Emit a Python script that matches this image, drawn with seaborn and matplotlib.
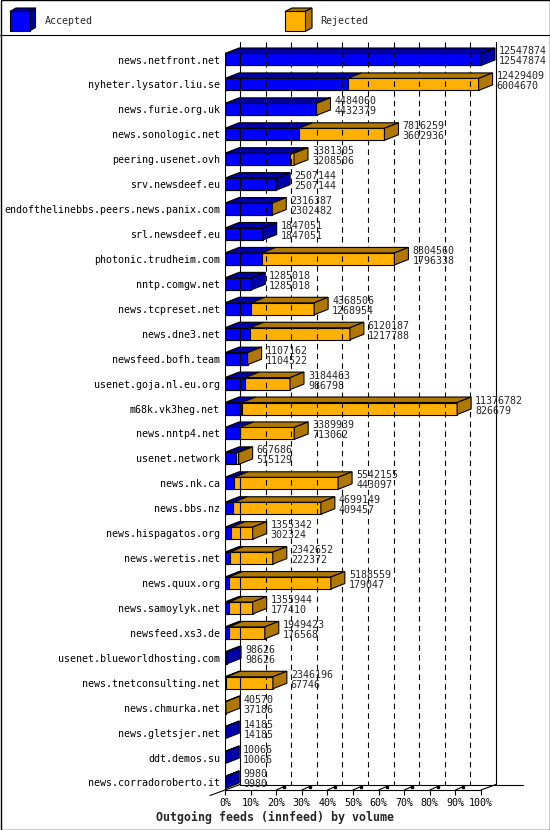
import pandas as pd
import seaborn as sns
import matplotlib.pyplot as plt
from matplotlib.patches import Polygon, Rectangle
from matplotlib.lines import Line2D

# innfeed outgoing feeds: offered (total) and accepted articles per peer
peers = [
    "news.netfront.net", "nyheter.lysator.liu.se", "news.furie.org.uk",
    "news.sonologic.net", "peering.usenet.ovh", "srv.newsdeef.eu",
    "endofthelinebbs.peers.news.panix.com", "srl.newsdeef.eu",
    "photonic.trudheim.com", "nntp.comgw.net", "news.tcpreset.net",
    "news.dne3.net", "newsfeed.bofh.team", "usenet.goja.nl.eu.org",
    "m68k.vk3heg.net", "news.nntp4.net", "usenet.network", "news.nk.ca",
    "news.bbs.nz", "news.hispagatos.org", "news.weretis.net",
    "news.quux.org", "news.samoylyk.net", "newsfeed.xs3.de",
    "usenet.blueworldhosting.com", "news.tnetconsulting.net",
    "news.chmurka.net", "news.gletsjer.net", "ddt.demos.su",
    "news.corradoroberto.it",
]
offered = [
    12547874, 12429409, 4484060, 7816259, 3381305, 2507144, 2316387,
    1847051, 8304560, 1285018, 4368506, 6120187, 1107162, 3184463,
    11376782, 3389939, 667686, 5542155, 4699149, 1355342, 2342652,
    5188559, 1355944, 1949423, 98626, 2346196, 40570, 14185, 10066, 9980,
]
accepted = [
    12547874, 6004670, 4432379, 3602936, 3208506, 2507144, 2302482,
    1847051, 1796338, 1285018, 1268954, 1217788, 1104522, 986798,
    826679, 713062, 515129, 443097, 409457, 302324, 222372, 179047,
    177410, 176568, 98626, 67746, 37186, 14185, 10066, 9980,
]
tick_pct = [0, 10, 20, 30, 40, 50, 60, 70, 80, 90, 100]

BLUE, BLUE_DARK = "#0000ff", "#0000a8"
ORANGE, ORANGE_DARK = "#ffb000", "#b07800"

df = pd.DataFrame({"peer": peers, "offered": offered, "accepted": accepted})
vmax = df["offered"].max()

sns.set_style("white")
plt.rcParams["font.family"] = ["DejaVu Sans Mono"]
plt.rcParams["lines.scale_dashes"] = False

W, H = 550, 830
fig = plt.figure(figsize=(W / 100, H / 100), dpi=100)

# layout in pixels (from top-left)
x0_px, row0_px, row_px = 225, 59.5, 24.93
top_px, bot_px, right_px = 37, 795, 525
px = vmax / 256.0           # data units per pixel along x
def yv(p):                  # pixel row -> category units
    return (p - row0_px) / row_px

ax = fig.add_axes([x0_px / W, 1 - bot_px / H, (right_px - x0_px) / W, (bot_px - top_px) / H])

bar_h = 12 / row_px
dx, dy = 14 * px, 5.5 / row_px

sns.barplot(data=df, y="peer", x="offered", orient="h", color=ORANGE, saturation=1,
            edgecolor="black", linewidth=0.8, width=bar_h, errorbar=None, ax=ax)
sns.barplot(data=df, y="peer", x="accepted", orient="h", color=BLUE, saturation=1,
            edgecolor="black", linewidth=0.8, width=bar_h, errorbar=None, ax=ax)

ax.set_xlim(0, (right_px - x0_px) * px)
ax.set_ylim(yv(bot_px), yv(top_px))

# 3d top and side faces
n = len(df)
for i, row in df.iterrows():
    p = ax.patches[i]
    yt, yb = p.get_y(), p.get_y() + p.get_height()
    T, A = row["offered"], row["accepted"]
    faces = [([(0, yt), (A, yt), (A + dx, yt - dy), (dx, yt - dy)], BLUE_DARK)]
    if T > A:
        faces.append(([(A, yt), (T, yt), (T + dx, yt - dy), (A + dx, yt - dy)], ORANGE_DARK))
    side = ORANGE_DARK if T > A else BLUE_DARK
    faces.append(([(T, yt), (T, yb), (T + dx, yb - dy), (T + dx, yt - dy)], side))
    for pts, c in faces:
        ax.add_patch(Polygon(pts, closed=True, facecolor=c, edgecolor="black",
                             linewidth=0.8, zorder=3))
    yc = (yt + yb) / 2
    ax.text(T + 18 * px, yc - 8 / row_px, str(T), fontsize=7.2, va="center", ha="left")
    ax.text(T + 18 * px, yc + 2 / row_px, str(A), fontsize=7.2, va="center", ha="left")

# back plane grid
bdx, bdy = 15 * px, 5.5 / row_px
floor_front = yv(790)
floor_back = floor_front - bdy
for k in tick_pct:
    xg = vmax * k / 100 + bdx
    ls = "-" if k in (0, 100) else (0, (4, 3))
    ax.plot([xg, xg], [yv(42), floor_back], color="black", lw=0.8, ls=ls, zorder=1)

# floor and front axis
ax.plot([-15 * px, bdx], [floor_front + bdy, floor_back], color="black", lw=0.8, clip_on=False)
ax.plot([0, vmax], [floor_front, floor_front], color="black", lw=0.8)
ax.plot([vmax, vmax + bdx], [floor_front, floor_back], color="black", lw=0.8)
ax.plot([bdx, (523 - x0_px) * px], [floor_back, floor_back], color="black", lw=0.8)
ax.plot([0, 0], [yv(53.5), floor_front], color="black", lw=0.8, zorder=1)
for k in tick_pct[2:-1]:
    xk = vmax * k / 100
    ax.plot([xk, xk + 8 * px], [floor_front, floor_front - 3.5 / row_px], color="black",
            lw=0.8, marker="s", markersize=2, markevery=[1])

ax.set_xticks([vmax * k / 100 for k in tick_pct], labels=[f"{k}%" for k in tick_pct])
ax.tick_params(axis="x", direction="in", length=3.6, width=0.8, pad=2, labelsize=7.2,
               colors="black", bottom=True)
ax.tick_params(axis="y", length=0, pad=3.6, labelsize=7.2, colors="black")
ax.set_xlabel("")
ax.set_ylabel("")
for s in ax.spines.values():
    s.set_visible(False)
ax.set_facecolor("none")

# legend cubes
def cube(x, y, size, ddx, ddy, front, dark):
    f = lambda a, b: (a / W, 1 - b / H)
    pts_front = [f(x, y), f(x + size, y), f(x + size, y + size), f(x, y + size)]
    pts_top = [f(x, y), f(x + ddx, y - ddy), f(x + size + ddx, y - ddy), f(x + size, y)]
    pts_side = [f(x + size, y), f(x + size + ddx, y - ddy), f(x + size + ddx, y + size - ddy),
                f(x + size, y + size)]
    for pts, c in [(pts_top, dark), (pts_side, dark), (pts_front, front)]:
        fig.add_artist(Polygon(pts, closed=True, facecolor=c, edgecolor="black",
                               linewidth=0.8, transform=fig.transFigure))

cube(10, 11.5, 19.5, 6, 3.5, BLUE, BLUE_DARK)
cube(285, 11.5, 20, 7, 3.5, ORANGE, ORANGE_DARK)
fig.text(45 / W, 1 - 20.5 / H, "Accepted", fontsize=7.2, va="center")
fig.text(320 / W, 1 - 20.5 / H, "Rejected", fontsize=7.2, va="center")

fig.add_artist(Line2D([0, 1], [1 - 35 / H] * 2, color="black", lw=0.8))
fig.add_artist(Rectangle((0.5 / W, 0.5 / H), 1 - 1 / W, 1 - 1 / H, fill=False,
                         edgecolor="black", lw=1.0, transform=fig.transFigure))

fig.text(156 / W, 1 - 817 / H, "Outgoing feeds (innfeed) by volume",
         fontsize=8.4, fontweight="bold", va="center")

fig.savefig("out.png", dpi=100)
